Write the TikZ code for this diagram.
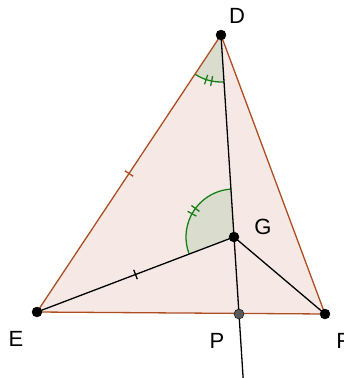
\documentclass[tikz,border=0pt]{standalone}
\usepackage{fontspec}
\setmainfont{Liberation Sans}
\usepackage[svgnames]{xcolor}
\usetikzlibrary{calc}
\definecolor{TriFill}{RGB}{246,233,229}
\definecolor{TriLine}{RGB}{172,78,34}
\definecolor{AngFill}{RGB}{218,221,206}
\definecolor{AngLine}{RGB}{22,128,22}
\colorlet{PtGray}{DimGray!85!black}
\newcommand{\geopt}[2]{% name, style
    \filldraw[#2] (#1) circle (5pt);
}

\begin{document}
\begin{tikzpicture}[
    x=1pt, y=1pt,
    edge/.style={TriLine, line width=1.3pt, line join=round},
    seg/.style={black, line width=1.3pt},
    angarc/.style={AngLine, line width=1.3pt},
    lbl/.style={font=\fontsize{22}{26}\selectfont, text=black, inner sep=0pt}
]
\useasboundingbox (0,0) rectangle (344,-378);

% ===================================================================
% POINTS
% ===================================================================
\coordinate (D) at (221,-35);
\coordinate (E) at (37,-312);
\coordinate (F) at (325,-314);
\coordinate (G) at (234,-237);
\coordinate (P) at (239,-314);
\coordinate (Q) at ($(D)!1.23!(P)$); % free end of line DP
\coordinate (mDE) at ($(D)!0.5!(E)$);
\coordinate (mGE) at ($(G)!0.5!(E)$);

% ===================================================================
% TRIANGLE AND ANGLES
% ===================================================================
\fill[TriFill] (D) -- (E) -- (F) -- cycle;

% Angle EDG
\fill[AngFill] (D) -- ($(D)+(236.4:47)$) arc (236.4:273.7:47) -- cycle;
\draw[angarc] ($(D)+(236.4:47)$) arc (236.4:273.7:47);
\foreach \a in {251.5,258.5} {
    \draw[angarc] ($(D)+(\a:42)$) -- ($(D)+(\a:52)$);
}
% Angle DGE
\fill[AngFill] (G) -- ($(G)+(93.7:48)$) arc (93.7:200.8:48) -- cycle;
\draw[angarc] ($(G)+(93.7:48)$) arc (93.7:200.8:48);
\foreach \a in {143.5,151} {
    \draw[angarc] ($(G)+(\a:43)$) -- ($(G)+(\a:53)$);
}

\draw[edge] (D) -- (E) -- (F) -- cycle;
\draw[edge] ($(mDE)!5pt!90:(E)$) -- ($(mDE)!5pt!-90:(E)$);

% ===================================================================
% SEGMENTS
% ===================================================================
\draw[seg] (E) -- (G) -- (F);
\draw[seg] (D) -- (Q);
\draw[seg] ($(mGE)!5pt!90:(E)$) -- ($(mGE)!5pt!-90:(E)$);

\geopt{D}{black}
\geopt{E}{black}
\geopt{F}{black}
\geopt{G}{black}
\geopt{P}{black, fill=PtGray}

% Labels
\node[lbl] (lblD) at (237,-16) {D};
\node[lbl] (lblG) at (263,-227) {G};
\node[lbl] (lblE) at (16,-339) {E};
\node[lbl] (lblP) at (217,-341) {P};
\node[lbl] (lblF) at (343,-341) {F};

\end{tikzpicture}
\end{document}
